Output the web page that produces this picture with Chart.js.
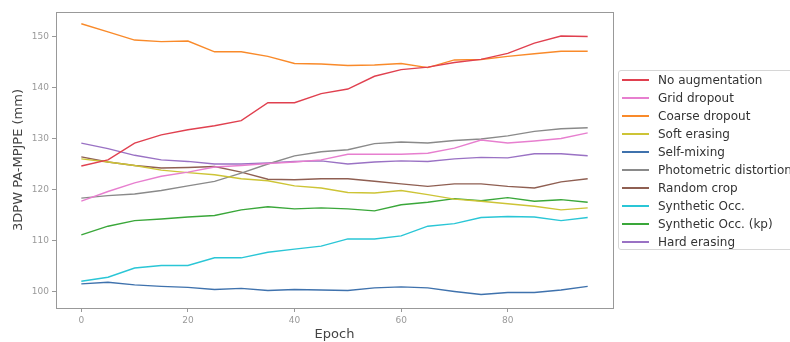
<!DOCTYPE html>
<html>
<head>
<meta charset="utf-8">
<script src="https://cdn.jsdelivr.net/npm/chart.js@4/dist/chart.umd.min.js"></script>
<style>
  html, body { margin: 0; padding: 0; background: #fff; overflow: hidden; }
  #wrap { position: relative; width: 790px; height: 342px; }
  #legend { position: absolute; left: 618px; top: 70px; width: 200px; height: 180px;
            border: 1px solid #d6d6d6; border-radius: 3px; background: #fff; box-sizing: border-box;
            font-family: "DejaVu Sans", sans-serif; font-size: 12px; color: #333; }
  .row { position: absolute; left: 0; height: 18px; line-height: 18px; white-space: nowrap; }
  .sw { position: absolute; left: 3px; top: 8px; width: 27px; height: 2px; }
  .lb { position: absolute; left: 39px; top: 0; }
</style>
</head>
<body>
<div id="wrap">
  <canvas id="c" width="790" height="342"></canvas>
  <div id="legend"></div>
</div>
<script>
const epochs = [0, 5, 10, 15, 20, 25, 30, 35, 40, 45, 50, 55, 60, 65, 70, 75, 80, 85, 90, 95];

const noAugmentation = [124.6, 125.8, 129.1, 130.7, 131.7, 132.5, 133.5, 137.0, 137.0, 138.8, 139.7, 142.2, 143.5, 144.0, 144.9, 145.5, 146.7, 148.7, 150.1, 150.0];
const gridDropout    = [117.7, 119.6, 121.3, 122.6, 123.4, 124.4, 124.7, 125.1, 125.4, 125.8, 126.9, 126.9, 126.9, 127.1, 128.1, 129.7, 129.1, 129.5, 130.0, 131.1];
const coarseDropout  = [152.5, 150.9, 149.3, 149.0, 149.1, 147.0, 147.0, 146.1, 144.7, 144.6, 144.3, 144.4, 144.7, 143.9, 145.4, 145.5, 146.1, 146.6, 147.1, 147.1];
const softErasing    = [126.0, 125.4, 124.7, 123.8, 123.3, 122.9, 122.1, 121.7, 120.7, 120.3, 119.4, 119.3, 119.8, 119.0, 118.1, 117.7, 117.2, 116.7, 116.0, 116.4];
const selfMixing     = [101.5, 101.8, 101.3, 101.0, 100.8, 100.4, 100.6, 100.2, 100.4, 100.3, 100.2, 100.7, 100.9, 100.7, 100.0, 99.4, 99.8, 99.8, 100.3, 101.0];
const photometric    = [118.3, 118.8, 119.1, 119.8, 120.7, 121.6, 123.2, 125.0, 126.6, 127.4, 127.8, 129.0, 129.3, 129.1, 129.6, 129.9, 130.5, 131.4, 131.9, 132.1];
const randomCrop     = [126.4, 125.4, 124.7, 124.2, 124.3, 124.5, 123.4, 122.0, 121.9, 122.1, 122.1, 121.6, 121.1, 120.6, 121.1, 121.1, 120.6, 120.3, 121.5, 122.1];
const syntheticOcc   = [102.0, 102.8, 104.6, 105.1, 105.1, 106.6, 106.6, 107.7, 108.3, 108.9, 110.3, 110.3, 110.9, 112.8, 113.3, 114.5, 114.7, 114.6, 113.9, 114.5];
const syntheticOccKp = [111.1, 112.8, 113.9, 114.2, 114.6, 114.9, 116.0, 116.6, 116.2, 116.4, 116.2, 115.8, 117.0, 117.5, 118.2, 117.8, 118.4, 117.7, 118.0, 117.5];
const hardErasing    = [129.1, 128.0, 126.7, 125.8, 125.5, 125.0, 125.0, 125.2, 125.5, 125.6, 125.0, 125.4, 125.6, 125.5, 126.0, 126.3, 126.2, 127.0, 127.0, 126.6];

const seriesLabels = ["No augmentation", "Grid dropout", "Coarse dropout", "Soft erasing", "Self-mixing",
  "Photometric distortion", "Random crop", "Synthetic Occ.", "Synthetic Occ. (kp)", "Hard erasing"];
const seriesValues = [noAugmentation, gridDropout, coarseDropout, softErasing, selfMixing,
  photometric, randomCrop, syntheticOcc, syntheticOccKp, hardErasing];
const seriesColors = ["#e0404f", "#e77fcf", "#f98a2a", "#cdc436", "#3f72ad",
  "#8a8a8a", "#8f5f52", "#2ac6d6", "#3aa73a", "#9a72c4"];

const xTicks = [0, 20, 40, 60, 80];
const yTicks = [100, 110, 120, 130, 140, 150];
const xTitle = "Epoch";
const yTitle = "3DPW PA-MPJPE (mm)";

const datasets = seriesLabels.map((lab, i) => ({
  label: lab,
  data: epochs.map((e, j) => ({ x: e, y: seriesValues[i][j] })),
  borderColor: seriesColors[i],
  backgroundColor: seriesColors[i],
  borderWidth: 1.4,
  pointRadius: 0,
  tension: 0,
  fill: false
}));

const frame = {
  id: 'frame',
  afterDraw(chart) {
    const a = chart.chartArea, ctx = chart.ctx;
    ctx.save();
    ctx.strokeStyle = '#999';
    ctx.lineWidth = 1;
    ctx.strokeRect(Math.round(a.left) + 0.5, Math.round(a.top) + 0.5,
                   Math.round(a.right - a.left), Math.round(a.bottom - a.top));
    ctx.restore();
  }
};

const tickFont = { family: "DejaVu Sans", size: 9 };
const titleFont = { family: "DejaVu Sans", size: 13 };

new Chart(document.getElementById('c'), {
  type: 'line',
  data: { datasets },
  options: {
    responsive: false,
    animation: false,
    devicePixelRatio: 1,
    layout: { padding: { left: 0, top: 12, right: 177, bottom: 0 } },
    plugins: { legend: { display: false }, tooltip: { enabled: false } },
    scales: {
      x: {
        type: 'linear',
        min: -4.75, max: 99.75,
        afterBuildTicks: s => { s.ticks = xTicks.map(v => ({ value: v })); },
        afterFit: s => { s.height = 34; },
        grid: { display: true, drawOnChartArea: false, tickLength: 4, color: '#999', tickColor: '#999' },
        border: { display: true, color: '#999' },
        ticks: { font: tickFont, color: '#9a9a9a', padding: 3, maxRotation: 0 },
        title: { display: true, text: xTitle, font: titleFont, color: '#444', padding: { top: 0, bottom: 0 } }
      },
      y: {
        type: 'linear',
        min: 96.76, max: 154.8,
        afterBuildTicks: s => { s.ticks = yTicks.map(v => ({ value: v })); },
        afterFit: s => { s.width = 56; },
        grid: { display: true, drawOnChartArea: false, tickLength: 4, color: '#999', tickColor: '#999' },
        border: { display: true, color: '#999' },
        ticks: { font: tickFont, color: '#9a9a9a', padding: 3 },
        title: { display: true, text: yTitle, font: titleFont, color: '#444', padding: { top: 11, bottom: 0 } }
      }
    }
  },
  plugins: [frame]
});

const leg = document.getElementById('legend');
seriesLabels.forEach((lab, i) => {
  const row = document.createElement('div');
  row.className = 'row';
  row.style.top = (0 + i * 18) + 'px';
  const sw = document.createElement('div');
  sw.className = 'sw';
  sw.style.backgroundColor = seriesColors[i];
  const lb = document.createElement('div');
  lb.className = 'lb';
  lb.textContent = lab;
  row.appendChild(sw); row.appendChild(lb);
  leg.appendChild(row);
});
</script>
</body>
</html>
